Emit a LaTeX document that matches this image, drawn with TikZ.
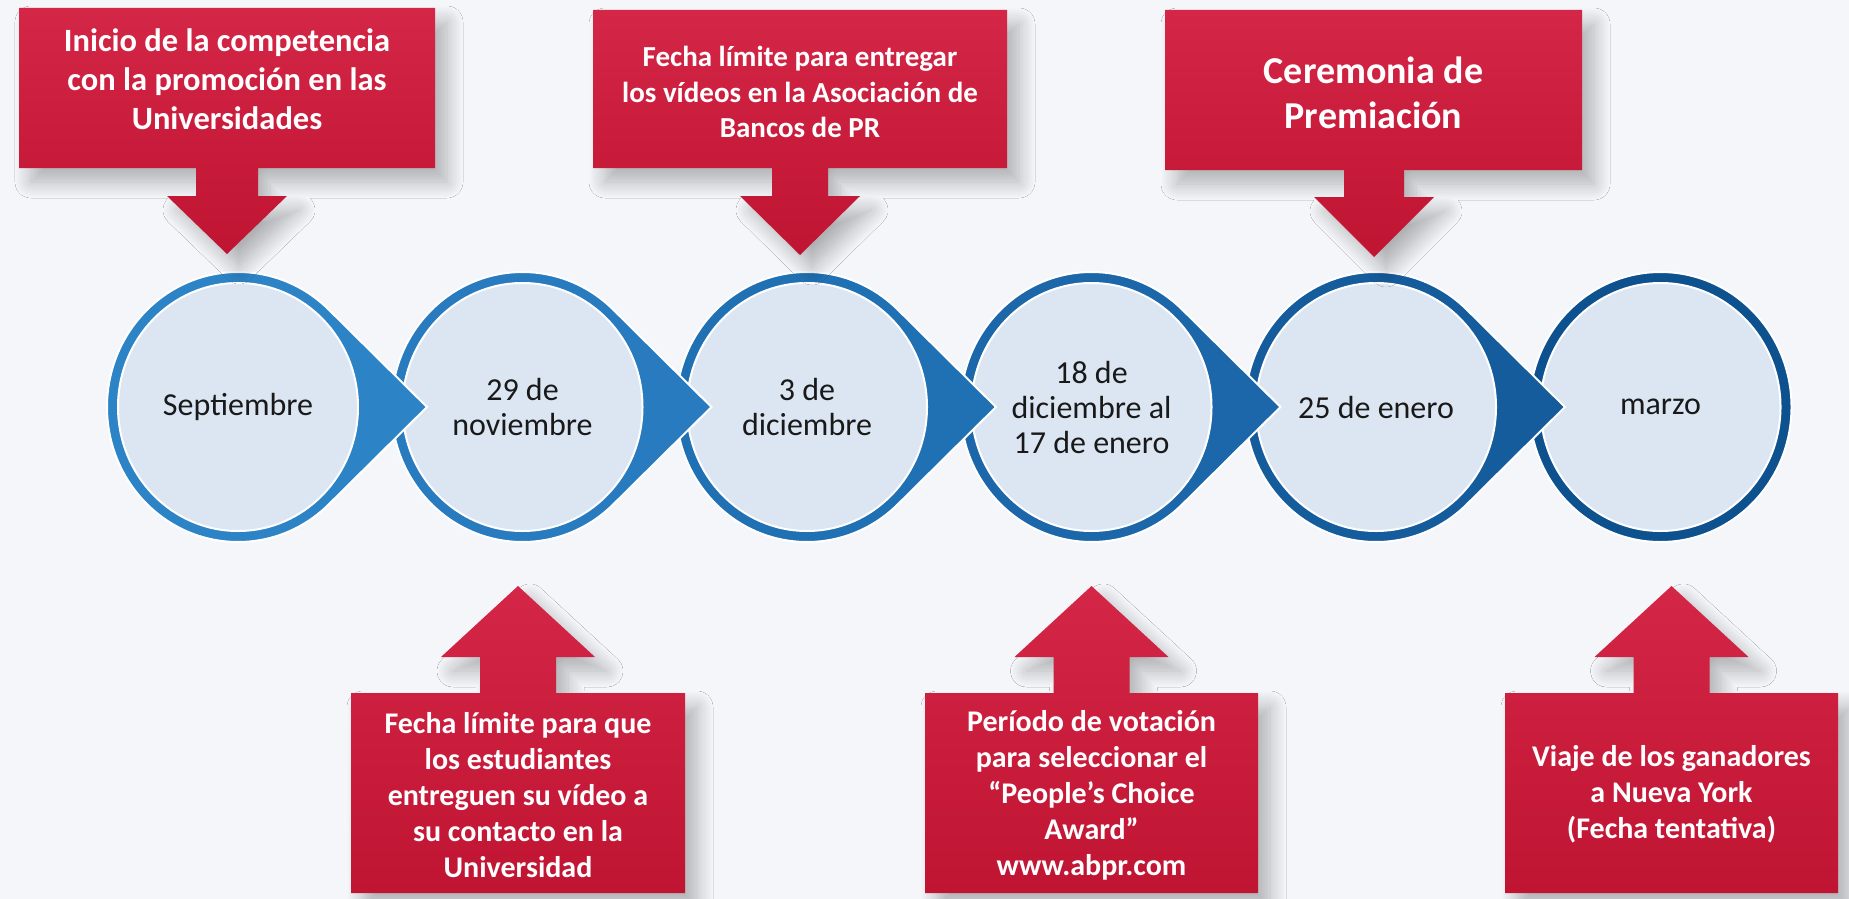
\documentclass[tikz,border=0pt]{standalone}
\usepackage{fontspec}
\setmainfont{Carlito}
\usetikzlibrary{shadows.blur}
\definecolor{bg}{HTML}{F4F6F9}
\definecolor{redtop}{HTML}{D42646}
\definecolor{redbot}{HTML}{C01433}
\definecolor{cfill}{HTML}{DCE6F3}
\definecolor{bA}{HTML}{2C83C5}
\definecolor{bB}{HTML}{287BBE}
\definecolor{bC}{HTML}{2070B4}
\definecolor{bD}{HTML}{1B67AA}
\definecolor{bE}{HTML}{155C9D}
\definecolor{bF}{HTML}{0E518F}
\tikzset{
  redshape/.style={top color=redtop, bottom color=redbot,
    blur shadow={shadow xshift=12pt, shadow yshift=-14pt, shadow blur radius=16pt, shadow blur steps=16, shadow opacity=28}},
  redtext/.style={text=white, align=center, inner sep=0pt},
  ring/.style={fill=#1, draw=white, line width=2pt},
  innerc/.style={fill=cfill, draw=white, line width=2pt},
  ctext/.style={align=center, text=black!90, inner sep=0pt, font=\fontsize{32}{35}\selectfont}
}
\begin{document}
\begin{tikzpicture}[x=1pt,y=-1pt]
\fill[bg] (0,0) rectangle (1849,899);
\useasboundingbox (0,0) rectangle (1849,899);

% circles, drawn right to left so each point lies over the next circle
\path[ring=bF] (1660.5,407) ellipse[x radius=131, y radius=135];
\path[innerc] (1660.5,407) ellipse[x radius=120, y radius=124];
\foreach \cx/\col in {1376/bE, 1091.5/bD, 807/bC, 522.5/bB, 238/bA}{
  \path[ring=\col] (\cx,407) ++(46.1:131 and 135) arc[start angle=46.1, end angle=313.9, x radius=131, y radius=135] -- (\cx+189,407) -- cycle;
  \path[innerc] (\cx,407) ellipse[x radius=120, y radius=124];
}
\node[ctext] (c1) at (238,407) {Septiembre};
\node[ctext] (c2) at (522.5,407) {29 de\\noviembre};
\node[ctext] (c3) at (807,407) {3 de\\diciembre};
\node[ctext] (c4) at (1091.5,407) {18 de\\diciembre al\\17 de enero};
\node[ctext] (c5) at (1376,407) {25 de enero};
\node[ctext] (c6) at (1660.5,407) {marzo};

% top callouts
\path[redshape] (19,8) -- (435,8) -- (435,168) -- (258,168) -- (258,196) -- (287,196) -- (227,254) -- (167,196) -- (196,196) -- (196,168) -- (19,168) -- cycle;
\node[redtext, font=\fontsize{32.5}{39}\selectfont\bfseries] (b1) at (227,79) {Inicio de la competencia\\con la promoción en las\\Universidades};

\path[redshape] (593,10) -- (1007,10) -- (1007,168) -- (828,168) -- (828,196) -- (860,196) -- (800,255) -- (740,196) -- (772,196) -- (772,168) -- (593,168) -- cycle;
\node[redtext, font=\fontsize{29}{35.5}\selectfont\bfseries] (b2) at (800,92) {Fecha límite para entregar\\los vídeos en la Asociación de\\Bancos de PR};

\path[redshape] (1165,10) -- (1582,10) -- (1582,170) -- (1404,170) -- (1404,197) -- (1434,197) -- (1374,257) -- (1314,197) -- (1344,197) -- (1344,170) -- (1165,170) -- cycle;
\node[redtext, font=\fontsize{38}{45}\selectfont\bfseries] (b3) at (1373.5,93) {Ceremonia de\\Premiación};

% bottom callouts
\path[redshape] (351,893) -- (685,893) -- (685,693) -- (556,693) -- (556,657) -- (595,657) -- (518,586) -- (441,657) -- (480,657) -- (480,693) -- (351,693) -- cycle;
\node[redtext, font=\fontsize{30}{36}\selectfont\bfseries] (b4) at (518,795) {Fecha límite para que\\los estudiantes\\entreguen su vídeo a\\su contacto en la\\Universidad};

\path[redshape] (925,893) -- (1258,893) -- (1258,693) -- (1129.5,693) -- (1129.5,657) -- (1168.5,657) -- (1091.5,586) -- (1014.5,657) -- (1053.5,657) -- (1053.5,693) -- (925,693) -- cycle;
\node[redtext, font=\fontsize{30}{36}\selectfont\bfseries] (b5) at (1091.5,795) {Período de votación\\para seleccionar el\\“People’s Choice\\Award”\\www.abpr.com};

\path[redshape] (1505,893) -- (1838,893) -- (1838,693) -- (1709.5,693) -- (1709.5,657) -- (1748.5,657) -- (1671.5,586) -- (1594.5,657) -- (1633.5,657) -- (1633.5,693) -- (1505,693) -- cycle;
\node[redtext, font=\fontsize{30}{36}\selectfont\bfseries] (b6) at (1671.5,794) {Viaje de los ganadores\\a Nueva York\\(Fecha tentativa)};
\end{tikzpicture}
\end{document}
